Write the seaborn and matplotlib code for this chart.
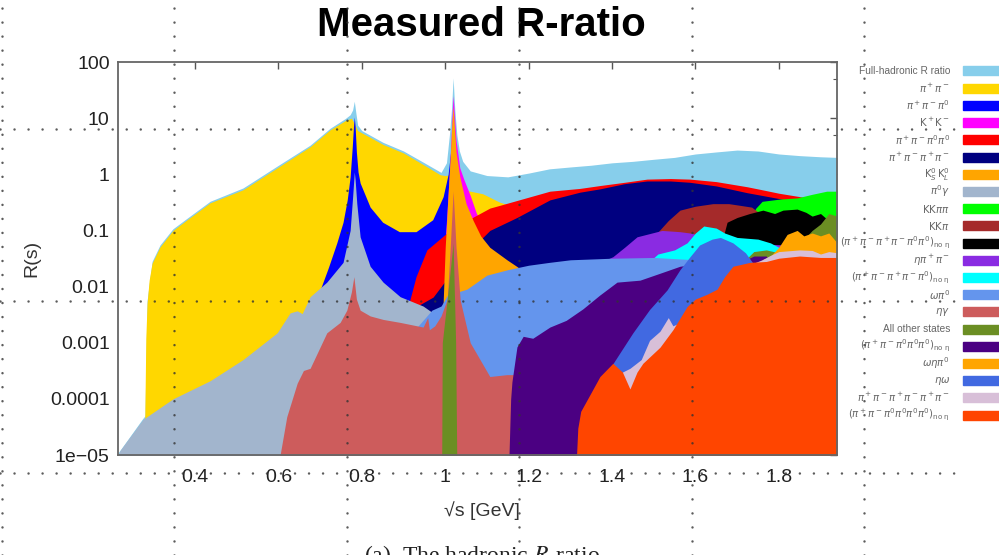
import numpy as np
import matplotlib
matplotlib.use("Agg")
import matplotlib.pyplot as plt
import seaborn as sns
from matplotlib.lines import Line2D
from matplotlib.patches import Rectangle
from matplotlib.ticker import FixedLocator, FixedFormatter, NullFormatter

# ---------------- data (sqrt(s) in GeV, R(s)) ----------------
full_x = [0.216, 0.275, 0.280, 0.285, 0.297, 0.316, 0.347, 0.381, 0.436, 0.515, 0.597, 0.676, 0.724, 0.760, 0.772,
          0.778, 0.782, 0.786, 0.790, 0.800, 0.851, 0.900, 0.950, 0.990, 1.003, 1.010, 1.015, 1.019, 1.023, 1.028,
          1.034, 1.042, 1.060, 1.100, 1.150, 1.200, 1.250, 1.300, 1.350, 1.400, 1.450, 1.500, 1.550, 1.600, 1.650,
          1.700, 1.750, 1.800, 1.850, 1.900, 1.940]
full_y = [1.1e-5, 4.5e-5, 5e-5, 0.0055, 0.028, 0.055, 0.107, 0.165, 0.33, 0.57, 1.4, 3.3, 6.6, 9.8, 11.5,
          14, 20, 12, 7.5, 6.0, 3.7, 2.6, 1.6, 1.08, 1.6, 5, 14, 52, 14, 5,
          2.6, 1.7, 1.15, 0.95, 0.9, 1.05, 1.25, 1.35, 1.45, 1.6, 1.7, 1.85, 2.0, 2.3, 2.5,
          2.7, 2.6, 2.3, 2.15, 2.05, 2.0]

pipi_x = [0.2795, 0.282, 0.285, 0.290, 0.297, 0.316, 0.347, 0.381, 0.436, 0.515, 0.597, 0.676, 0.724, 0.760, 0.775,
          0.782, 0.790, 0.851, 0.900, 0.950, 0.988, 1.000, 1.019, 1.035, 1.060, 1.090, 1.130, 1.200, 1.300, 1.500, 1.940]
pipi_y = [4.3e-5, 0.0012, 0.005, 0.013, 0.026, 0.051, 0.10, 0.155, 0.31, 0.53, 1.3, 3.1, 6.2, 9.0, 10.0,
          8.0, 6.0, 3.4, 2.4, 1.45, 0.98, 0.95, 1.0, 0.55, 0.5, 0.45, 0.32, 0.22, 0.12, 0.05, 0.02]

pi3_x = [0.66, 0.70, 0.72, 0.740, 0.755, 0.765, 0.772, 0.777, 0.780, 0.782, 0.784, 0.787, 0.791, 0.796, 0.82, 0.85,
         0.89, 0.93, 0.97, 0.995, 1.007, 1.013, 1.017, 1.019, 1.021, 1.025, 1.03, 1.05, 1.1, 1.3, 1.6, 1.94]
pi3_y = [0.001, 0.0087, 0.022, 0.06, 0.14, 0.35, 0.9, 3.0, 7.0, 10.5, 7.0, 2.5, 1.1, 0.7, 0.26, 0.14,
         0.095, 0.095, 0.155, 0.4, 1.0, 2.5, 5, 7, 5, 2, 0.6, 0.15, 0.06, 0.03, 0.02, 0.01]

kk_x = [0.988, 0.995, 1.003, 1.009, 1.013, 1.016, 1.019, 1.022, 1.026, 1.035, 1.045, 1.06, 1.075, 1.09, 1.2, 1.5, 1.94]
kk_y = [0.001, 0.02, 0.15, 0.8, 3, 10, 25, 11, 4, 1.3, 0.8, 0.42, 0.2, 0.13, 0.06, 0.03, 0.02]

pipi2pi0_x = [0.88, 0.912, 0.93, 0.956, 1.004, 1.052, 1.107, 1.131, 1.251, 1.323, 1.371, 1.43, 1.484, 1.54, 1.587,
              1.65, 1.724, 1.76, 1.80, 1.85, 1.94]
pipi2pi0_y = [0.0005, 0.0047, 0.015, 0.045, 0.09, 0.15, 0.25, 0.28, 0.5, 0.56, 0.63, 0.72, 0.82, 0.84, 0.82,
              0.74, 0.6, 0.53, 0.46, 0.4, 0.3]

pi4_x = [0.90, 0.933, 0.971, 0.99, 1.02, 1.06, 1.107, 1.172, 1.251, 1.323, 1.371, 1.43, 1.484, 1.54, 1.587,
         1.65, 1.724, 1.76, 1.80, 1.85, 1.94]
pi4_y = [0.0015, 0.0045, 0.0065, 0.01, 0.02, 0.045, 0.1, 0.17, 0.35, 0.48, 0.55, 0.68, 0.76, 0.76, 0.72,
         0.62, 0.47, 0.42, 0.37, 0.3, 0.2]

kskl_x = [0.995, 1.0, 1.007, 1.012, 1.016, 1.019, 1.022, 1.026, 1.035, 1.05, 1.067, 1.085, 1.107, 1.148, 1.175,
          1.19, 1.3, 1.94]
kskl_y = [0.005, 0.05, 0.45, 2.0, 8, 16, 7, 2.5, 0.9, 0.3, 0.15, 0.08, 0.05, 0.03, 0.022,
          0.01, 0.003, 0.001]

pi0g_x = [0.216, 0.22, 0.275, 0.347, 0.436, 0.515, 0.597, 0.628, 0.645, 0.657, 0.676, 0.716, 0.755, 0.772, 0.778,
          0.782, 0.784, 0.788, 0.796, 0.82, 0.851, 0.892, 0.947, 0.968, 0.99, 1.02, 1.1, 1.94]
pi0g_y = [1e-5, 1.2e-5, 4.3e-5, 1e-4, 2.1e-4, 5e-4, 1.5e-3, 3.4e-3, 3.7e-3, 3.3e-3, 6.6e-3, 0.012, 0.027, 0.1, 0.4,
          1.1, 0.8, 0.3, 0.077, 0.023, 0.012, 0.0066, 0.0045, 0.0035, 0.0038, 0.005, 0.002, 3e-4]

kkpipi_x = [1.70, 1.72, 1.745, 1.76, 1.80, 1.844, 1.88, 1.915, 1.94]
kkpipi_y = [0.05, 0.12, 0.25, 0.33, 0.36, 0.38, 0.44, 0.5, 0.5]

kkpi_x = [1.38, 1.45, 1.48, 1.508, 1.535, 1.563, 1.60, 1.642, 1.68, 1.707, 1.735, 1.755, 1.78, 1.94]
kkpi_y = [0.015, 0.04, 0.06, 0.09, 0.15, 0.23, 0.27, 0.3, 0.3, 0.28, 0.26, 0.2, 0.12, 0.1]

pi6_2pi0_x = [1.60, 1.66, 1.676, 1.70, 1.73, 1.762, 1.79, 1.81, 1.844, 1.865, 1.88, 1.90, 1.915, 1.93, 1.94]
pi6_2pi0_y = [0.02, 0.05, 0.14, 0.17, 0.2, 0.23, 0.2, 0.23, 0.24, 0.21, 0.18, 0.2, 0.16, 0.08, 0.06]

etapipi_x = [1.30, 1.35, 1.371, 1.402, 1.43, 1.46, 1.52, 1.563, 1.587, 1.62, 1.7, 1.94]
etapipi_y = [0.003, 0.015, 0.027, 0.034, 0.05, 0.077, 0.1, 0.095, 0.09, 0.08, 0.06, 0.05]

pi5_x = [1.45, 1.49, 1.51, 1.55, 1.58, 1.60, 1.62, 1.65, 1.67, 1.70, 1.75, 1.78, 1.80, 1.85, 1.94]
pi5_y = [0.01, 0.028, 0.038, 0.045, 0.06, 0.09, 0.12, 0.11, 0.09, 0.075, 0.07, 0.06, 0.05, 0.04, 0.03]

ompi0_x = [0.90, 0.968, 0.99, 1.01, 1.03, 1.052, 1.10, 1.15, 1.20, 1.25, 1.30, 1.40, 1.50, 1.60, 1.94]
ompi0_y = [0.001, 0.0038, 0.0045, 0.008, 0.008, 0.009, 0.016, 0.02, 0.024, 0.027, 0.03, 0.032, 0.033, 0.03, 0.02]

etag_x = [0.604, 0.62, 0.645, 0.66, 0.676, 0.716, 0.748, 0.764, 0.775, 0.781, 0.787, 0.796, 0.82, 0.851, 0.892,
          0.947, 0.958, 0.962, 0.975, 0.99, 1.005, 1.012, 1.019, 1.026, 1.036, 1.06, 1.107, 1.148, 1.165]
etag_y = [1e-5, 4.8e-5, 1.9e-4, 3.2e-4, 3.5e-4, 1.5e-3, 2.3e-3, 3.8e-3, 0.008, 0.015, 0.006, 0.0038, 0.003, 0.0026, 0.0023,
          0.0019, 0.0028, 0.0017, 0.002, 0.003, 0.006, 0.05, 0.5, 0.05, 0.0057, 0.001, 2.5e-4, 2.7e-4, 2.7e-4]

other_x = [0.991, 0.993, 1.008, 1.019, 1.025, 1.029, 1.70, 1.72, 1.74, 1.77, 1.80, 1.86, 1.88, 1.90, 1.92, 1.94]
other_y = [1e-6, 1e-3, 0.01, 0.06, 1e-3, 1e-6, 1e-6, 0.03, 0.042, 0.045, 0.04, 0.07, 0.1, 0.13, 0.2, 0.18]

pi5_3pi0_x = [1.153, 1.157, 1.16, 1.172, 1.187, 1.21, 1.251, 1.29, 1.33, 1.37, 1.412, 1.467, 1.522, 1.563, 1.60,
              1.65, 1.70, 1.74, 1.77, 1.79, 1.94]
pi5_3pi0_y = [1e-5, 1e-4, 2e-4, 8.4e-4, 1.3e-3, 1.2e-3, 1.9e-3, 2.5e-3, 4e-3, 7e-3, 0.012, 0.013, 0.018, 0.023, 0.025,
              0.02, 0.025, 0.035, 0.035, 0.02, 0.01]

omegaetapi0_x = [1.70, 1.76, 1.78, 1.80, 1.82, 1.844, 1.86, 1.88, 1.90, 1.92, 1.94]
omegaetapi0_y = [1e-4, 0.03, 0.035, 0.05, 0.085, 0.1, 0.08, 0.09, 0.08, 0.09, 0.06]

etaomega_x = [1.37, 1.40, 1.45, 1.49, 1.532, 1.563, 1.587, 1.61, 1.64, 1.66, 1.69, 1.72, 1.74, 1.76, 1.94]
etaomega_y = [1e-5, 4e-4, 1.5e-3, 3.9e-3, 8.7e-3, 0.02, 0.034, 0.055, 0.07, 0.075, 0.06, 0.04, 0.025, 0.02, 0.01]

pi6_x = [1.38, 1.40, 1.425, 1.443, 1.47, 1.49, 1.515, 1.535, 1.546, 1.6, 1.7, 1.76, 1.78, 1.80, 1.85, 1.88, 1.90,
         1.92, 1.94]
pi6_y = [1e-5, 2e-4, 3e-4, 3.5e-4, 5e-4, 1.1e-3, 1.6e-3, 2.8e-3, 2e-3, 3e-3, 0.02, 0.03, 0.036, 0.042, 0.045, 0.044,
         0.038, 0.042, 0.04]

pi6_4pi0_x = [1.315, 1.318, 1.325, 1.35, 1.371, 1.402, 1.425, 1.443, 1.46, 1.474, 1.515, 1.546, 1.58, 1.60, 1.628,
              1.652, 1.67, 1.69, 1.731, 1.77, 1.80, 1.85, 1.90, 1.94]
pi6_4pi0_y = [1e-5, 3e-5, 6e-5, 1.3e-4, 2.5e-4, 4.3e-4, 3e-4, 1.5e-4, 3e-4, 4.3e-4, 8.3e-4, 1.7e-3, 4.4e-3, 6e-3, 7.3e-3,
              9e-3, 0.015, 0.023, 0.027, 0.028, 0.032, 0.035, 0.033, 0.033]

channel_labels = [
    "Full-hadronic R ratio", r"$\pi^+\pi^-$", r"$\pi^+\pi^-\pi^0$", r"$\mathrm{K}^+\mathrm{K}^-$",
    r"$\pi^+\pi^-\pi^0\pi^0$", r"$\pi^+\pi^-\pi^+\pi^-$", r"$\mathrm{K}^0_S\,\mathrm{K}^0_L$", r"$\pi^0\gamma$",
    r"$\mathrm{KK}\pi\pi$", r"$\mathrm{KK}\pi$",
    r"$(\pi^+\pi^-\pi^+\pi^-\pi^0\pi^0)_{\rm no\ \eta}$", r"$\eta\pi^+\pi^-$",
    r"$(\pi^+\pi^-\pi^+\pi^-\pi^0)_{\rm no\ \eta}$", r"$\omega\pi^0$", r"$\eta\gamma$", "All other states",
    r"$(\pi^+\pi^-\pi^0\pi^0\pi^0)_{\rm no\ \eta}$", r"$\omega\eta\pi^0$", r"$\eta\omega$",
    r"$\pi^+\pi^-\pi^+\pi^-\pi^+\pi^-$", r"$(\pi^+\pi^-\pi^0\pi^0\pi^0\pi^0)_{\rm no\ \eta}$"]
channel_colors = ["#87CEEB", "#FFD700", "#0000FF", "#FF00FF", "#FF0000", "#000080", "#FFA500", "#A2B5CD",
                  "#00FF00", "#A52A2A", "#000000", "#8A2BE2", "#00FFFF", "#6495ED", "#CD5C5C", "#6B8E23",
                  "#4B0082", "#FFA500", "#4169E1", "#D8BFD8", "#FF4500"]
channel_x = [full_x, pipi_x, pi3_x, kk_x, pipi2pi0_x, pi4_x, kskl_x, pi0g_x, kkpipi_x, kkpi_x, pi6_2pi0_x,
             etapipi_x, pi5_x, ompi0_x, etag_x, other_x, pi5_3pi0_x, omegaetapi0_x, etaomega_x, pi6_x, pi6_4pi0_x]
channel_y = [full_y, pipi_y, pi3_y, kk_y, pipi2pi0_y, pi4_y, kskl_y, pi0g_y, kkpipi_y, kkpi_y, pi6_2pi0_y,
             etapipi_y, pi5_y, ompi0_y, etag_y, other_y, pi5_3pi0_y, omegaetapi0_y, etaomega_y, pi6_y, pi6_4pi0_y]

ytick_vals = [1e-5, 1e-4, 1e-3, 1e-2, 1e-1, 1, 10, 100]
ytick_labels = ["1e\u221205", "0.0001", "0.001", "0.01", "0.1", "1", "10", "100"]
yminor_vals = [5e-5, 5e-4, 5e-3, 5e-2, 0.5, 5, 50]
xtick_vals = [0.4, 0.6, 0.8, 1.0, 1.2, 1.4, 1.6, 1.8]
xtick_labels = ["0.4", "0.6", "0.8", "1", "1.2", "1.4", "1.6", "1.8"]

# ---------------- style ----------------
sns.set_theme(style="white")
plt.rcParams['font.family'] = ['Liberation Sans', 'DejaVu Sans']
plt.rcParams['mathtext.fontset'] = 'dejavusans'
palette = sns.color_palette(channel_colors)

W, H = 999, 555
def fx(px):
    return px / W
def fy(py):
    return 1 - py / H

fig = plt.figure(figsize=(W / 100, H / 100), dpi=100)
ax = fig.add_axes([fx(118), fy(455), (837 - 118) / W, (455 - 62) / H])
ax.set_yscale('log')

base = 1e-6
for xs, ys, col in zip(channel_x, channel_y, palette):
    ax.fill_between(np.asarray(xs), base, np.asarray(ys), color=col, linewidth=0, zorder=2)

ax.set_xlim(0.2153, 1.9396)
ax.set_ylim(1e-5, 100)
ax.yaxis.set_major_locator(FixedLocator(ytick_vals))
ax.yaxis.set_major_formatter(FixedFormatter(ytick_labels))
ax.yaxis.set_minor_locator(FixedLocator(yminor_vals))
ax.yaxis.set_minor_formatter(NullFormatter())
ax.xaxis.set_major_locator(FixedLocator(xtick_vals))
ax.xaxis.set_major_formatter(FixedFormatter(xtick_labels))
ax.tick_params(which='both', direction='in', top=True, right=True, color='#555', labelcolor='#222', labelsize=14)
ax.tick_params(which='major', length=5, width=1)
ax.tick_params(which='minor', length=3, width=0.8)
ax.tick_params(axis='x', pad=10)
ax.tick_params(axis='y', pad=6)
for s in ax.spines.values():
    s.set_color('#666')
    s.set_linewidth(1.3)
    s.set_zorder(5)

# titles / labels
fig.text(fx(481), fy(6), "Measured R-ratio", ha='center', va='top', fontsize=29, fontweight='bold', color='black')
fig.text(fx(32), fy(258), "R(s)", rotation=90, ha='center', va='center', fontsize=14, color='#333')
fig.text(fx(482), fy(511), "\u221As [GeV]", ha='center', va='center', fontsize=14, color='#333')
fig.text(fx(485), fy(543), "(a)  The hadronic $R$-ratio.", ha='center', va='top', fontsize=17,
         family=['Liberation Serif', 'DejaVu Serif'], math_fontfamily='stix', color='#222')

# legend (manual)
for i, (lab, col) in enumerate(zip(channel_labels, palette)):
    yy = 71 + i * 17.2
    fig.text(fx(950), fy(yy), lab, ha='right', va='center', fontsize=7.3, color='#666')
    fig.patches.append(Rectangle((fx(963), fy(yy + 4.5)), (1010 - 963) / W, 9 / H,
                                 transform=fig.transFigure, color=col, zorder=3))

# dotted overlay grid
lw = 1.8
off = (14 / 1.389) / lw
for xv in [1.5, 174, 346.5, 519, 691.5, 864]:
    fig.add_artist(Line2D([fx(xv), fx(xv)], [0, 1], transform=fig.transFigure, color='#333', alpha=0.8,
                          lw=lw, linestyle=(0, (0.01, off)), dash_capstyle='round', zorder=20))
for yv in [129, 301, 473]:
    fig.add_artist(Line2D([0, fx(965)], [fy(yv), fy(yv)], transform=fig.transFigure, color='#333', alpha=0.8,
                          lw=lw, linestyle=(0, (0.01, off)), dash_capstyle='round', zorder=20))

fig.savefig("out.png", dpi=100)
